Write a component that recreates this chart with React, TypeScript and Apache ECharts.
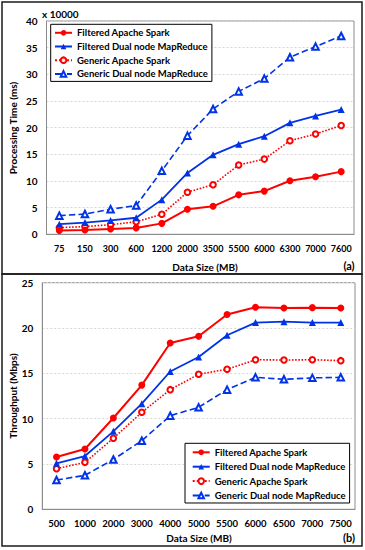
import React, { useEffect, useRef } from "react";
import * as echarts from "echarts";

const catsA = ["75", "150", "300", "600", "1200", "2000", "3500", "5500", "6000", "6300", "7000", "7600"];
const filteredSparkA = [0.7, 0.8, 1.0, 1.2, 2.05, 4.7, 5.25, 7.4, 8.1, 10.05, 10.8, 11.75];
const filteredMRA = [1.9, 2.2, 2.6, 3.1, 6.5, 11.5, 14.9, 16.9, 18.4, 20.9, 22.2, 23.4];
const genericSparkA = [1.25, 1.45, 1.8, 2.35, 3.75, 7.9, 9.3, 13.0, 14.1, 17.55, 18.8, 20.4];
const genericMRA = [3.5, 3.8, 4.7, 5.4, 11.9, 18.5, 23.5, 26.8, 29.2, 33.2, 35.2, 37.2];

const catsB = ["500", "1000", "2000", "3000", "4000", "5000", "5500", "6000", "6500", "7000", "7500"];
const filteredSparkB = [5.77, 6.65, 10.07, 13.7, 18.35, 19.1, 21.5, 22.3, 22.2, 22.25, 22.2];
const filteredMRB = [5.07, 5.88, 8.6, 11.65, 15.2, 16.8, 19.2, 20.6, 20.7, 20.6, 20.6];
const genericSparkB = [4.48, 5.18, 7.83, 10.7, 13.2, 14.9, 15.45, 16.5, 16.47, 16.5, 16.4];
const genericMRB = [3.23, 3.75, 5.5, 7.57, 10.33, 11.25, 13.2, 14.56, 14.34, 14.5, 14.56];

const seriesNames = [
  "Filtered Apache Spark",
  "Filtered Dual node MapReduce",
  "Generic Apache Spark",
  "Generic Dual node MapReduce",
];

const RED = "#ff0000";
const BLUE = "#0033e6";
const FONT = "Lato";

function makeSeries(idx: number, dataSets: number[][]) {
  const styles = [
    { color: RED, symbol: "circle", size: 7, type: "solid", width: 2 },
    { color: BLUE, symbol: "triangle", size: 7, type: "solid", width: 1.8 },
    { color: RED, symbol: "emptyCircle", size: 5.5, type: "dotted", width: 1.6 },
    { color: BLUE, symbol: "emptyTriangle", size: 6.5, type: "dashed", width: 1.6 },
  ];
  return dataSets.map((d, i) => {
    const s = styles[i];
    return {
      name: seriesNames[i],
      type: "line",
      xAxisIndex: idx,
      yAxisIndex: idx,
      data: d,
      symbol: s.symbol,
      symbolSize: s.size,
      lineStyle: { color: s.color, width: s.width, type: s.type },
      itemStyle: { color: s.color, borderColor: s.color, borderWidth: i >= 2 ? 1.4 : 0 },
      z: 10 - i,
    };
  });
}

const labelStyle = { fontFamily: FONT, fontWeight: "bold", fontSize: 9.5, color: "#000" };

export default function App() {
  const ref = useRef<HTMLDivElement>(null);
  useEffect(() => {
    if (!ref.current) return;
    const chart = echarts.init(ref.current, undefined, { renderer: "svg" });
    const axisLine = { show: true, lineStyle: { color: "#8c8c8c", width: 1 } };
    const splitLine = { show: true, lineStyle: { color: "#d6d6d6", type: [2, 2], width: 1 } };
    const legendCommon = {
      orient: "vertical",
      itemWidth: 17,
      itemHeight: 7,
      borderColor: "#000",
      borderWidth: 1,
      backgroundColor: "#fff",
      borderRadius: 0,
      textStyle: { ...labelStyle, lineHeight: 12 },
      data: seriesNames,
      selectedMode: false,
    };
    const txt = (size: number) => `bold ${size}px ${FONT}`;
    chart.setOption({
      animation: false,
      backgroundColor: "#fff",
      grid: [
        { left: 46.5, top: 21, width: 307.5, height: 213.3, show: true, borderColor: "#8c8c8c", borderWidth: 1, backgroundColor: "transparent" },
        { left: 42.3, top: 282.7, width: 312.7, height: 226.6, show: true, borderColor: "#8c8c8c", borderWidth: 1, backgroundColor: "transparent" },
      ],
      xAxis: [
        { type: "category", gridIndex: 0, data: catsA, boundaryGap: true, axisLine, axisTick: { show: false }, axisLabel: { ...labelStyle, fontSize: 9, margin: 10, interval: 0 }, splitLine: { show: false } },
        { type: "category", gridIndex: 1, data: catsB, boundaryGap: true, axisLine, axisTick: { show: false }, axisLabel: { ...labelStyle, margin: 9, interval: 0 }, splitLine: { show: false } },
      ],
      yAxis: [
        { type: "value", gridIndex: 0, min: 0, max: 40, interval: 5, axisLine, axisTick: { show: false }, axisLabel: { ...labelStyle, fontSize: 10, margin: 9 }, splitLine },
        { type: "value", gridIndex: 1, min: 0, max: 25, interval: 5, axisLine, axisTick: { show: false }, axisLabel: { ...labelStyle, fontSize: 10, margin: 9 }, splitLine },
      ],
      legend: [
        { ...legendCommon, left: 50.7, top: 24.3, itemGap: 1.7, padding: [2.5, 4, 1.5, 3.3] },
        { ...legendCommon, left: 185, top: 443.3, itemGap: 2.4, padding: [3, 4, 1.5, 6.7] },
      ],
      series: [
        ...makeSeries(0, [filteredSparkA, filteredMRA, genericSparkA, genericMRA]),
        ...makeSeries(1, [filteredSparkB, filteredMRB, genericSparkB, genericMRB]),
      ],
      graphic: [
        { type: "rect", shape: { x: 2, y: 2, width: 360, height: 272 }, style: { fill: "none", stroke: "#1a1a1a", lineWidth: 1.5 }, silent: true, z: 100 },
        { type: "rect", shape: { x: 2, y: 274, width: 360, height: 272 }, style: { fill: "none", stroke: "#1a1a1a", lineWidth: 1.5 }, silent: true, z: 100 },
        { type: "text", x: 42, y: 14, style: { text: "x 10000", fill: "#000", font: txt(10), align: "left", verticalAlign: "middle" } },
        { type: "text", x: 13, y: 128, rotation: Math.PI / 2, style: { text: "Processing Time (ms)", fill: "#000", font: txt(10), align: "center", verticalAlign: "middle" } },
        { type: "text", x: 13, y: 396, rotation: Math.PI / 2, style: { text: "Throughput (Mbps)", fill: "#000", font: txt(10), align: "center", verticalAlign: "middle" } },
        { type: "text", x: 205, y: 266.7, style: { text: "Data Size (MB)", fill: "#000", font: txt(10), align: "center", verticalAlign: "middle" } },
        { type: "text", x: 199, y: 538, style: { text: "Data Size (MB)", fill: "#000", font: txt(10), align: "center", verticalAlign: "middle" } },
        { type: "text", x: 349, y: 265, style: { text: "(a)", fill: "#000", font: txt(11), align: "center", verticalAlign: "middle" } },
        { type: "text", x: 349, y: 537, style: { text: "(b)", fill: "#000", font: txt(11), align: "center", verticalAlign: "middle" } },
      ],
    });
    return () => chart.dispose();
  }, []);
  return <div ref={ref} style={{ position: "absolute", left: 0, top: 0, width: 365, height: 550 }} />;
}
